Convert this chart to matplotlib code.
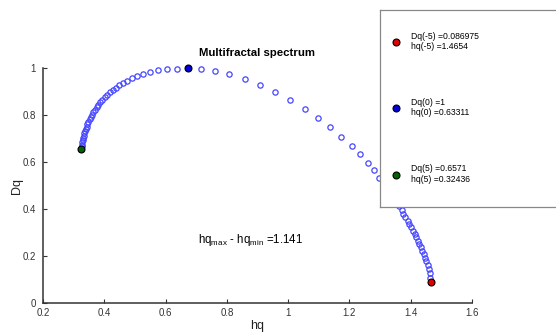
import matplotlib
matplotlib.use("Agg")
import matplotlib.pyplot as plt

plt.rcParams['font.family'] = ['Liberation Sans', 'DejaVu Sans']
plt.rcParams['mathtext.default'] = 'regular'

# spectrum points, from q=-5 (right end) through q=0 (top) to q=5 (left end)
hq = [1.4654, 1.4645, 1.4625, 1.4595, 1.4556, 1.4510, 1.4467, 1.4425, 1.4379,
      1.4337, 1.4281, 1.4239, 1.4183, 1.4131, 1.4076, 1.4020, 1.3955, 1.3903,
      1.3824, 1.3759, 1.3707, 1.3632, 1.3537, 1.3426, 1.3296, 1.3142, 1.2966,
      1.2813, 1.2597, 1.2346, 1.2069, 1.1736, 1.1377, 1.0975, 1.0541, 1.0071,
      0.9582, 0.9072, 0.8583, 0.8080, 0.7604, 0.7157, 0.6740,
      0.6373, 0.6047, 0.5753, 0.5492, 0.5264, 0.5058, 0.4905, 0.4751, 0.4621,
      0.4490, 0.4383, 0.4285, 0.4187, 0.4099, 0.4017, 0.3942, 0.3873, 0.3811,
      0.3753, 0.3697, 0.3648, 0.3602, 0.3560, 0.3521, 0.3485, 0.3452, 0.3423,
      0.3397, 0.3371, 0.3351, 0.3332, 0.3315, 0.3300, 0.3285, 0.3270, 0.3258,
      0.32436]
Dq = [0.086975, 0.1067, 0.1254, 0.1425, 0.1608, 0.1779, 0.1920, 0.2065, 0.2206,
      0.2363, 0.2504, 0.2645, 0.2790, 0.2931, 0.3072, 0.3217, 0.3358, 0.3498,
      0.3643, 0.3784, 0.3955, 0.4117, 0.4305, 0.4518, 0.4757, 0.5030, 0.5333,
      0.5648, 0.5973, 0.6323, 0.6694, 0.7082, 0.7483, 0.7880, 0.8276, 0.8648,
      0.8989, 0.9288, 0.9543, 0.9744, 0.9885, 0.9970, 1.0000,
      0.998, 0.995, 0.9915, 0.983, 0.974, 0.966, 0.957, 0.947, 0.937,
      0.927, 0.917, 0.907, 0.898, 0.8870, 0.8763, 0.8652, 0.8545, 0.8439,
      0.8332, 0.8225, 0.8123, 0.8020, 0.7918, 0.7816, 0.7713, 0.7615, 0.7517,
      0.7419, 0.7321, 0.7223, 0.7125, 0.7026, 0.6933, 0.6839, 0.6749, 0.6664,
      0.6571]

# highlighted points q=-5, 0, 5
mark_hq = [1.4654, 0.6740, 0.32436]
mark_Dq = [0.086975, 1.0, 0.6571]
mark_colors = ['#e00000', '#0000e0', '#006400']
mark_labels = ['Dq(-5) =0.086975\nhq(-5) =1.4654',
               'Dq(0) =1\nhq(0) =0.63311',
               'Dq(5) =0.6571\nhq(5) =0.32436']
width_text = r'hq$_{max}$ - hq$_{min}$ =1.141'

fig = plt.figure(figsize=(5.56, 3.34), dpi=100)
ax = fig.add_axes([0.0773, 0.0937, 0.7716, 0.7018])

ax.plot(hq, Dq, 'o', mfc='none', mec='#4646ff', mew=0.9, ms=3.8, clip_on=False, zorder=3)
handles = []
for x, y, c in zip(mark_hq, mark_Dq, mark_colors):
    h, = ax.plot([x], [y], 'o', mfc=c, mec='black', mew=0.8, ms=5, clip_on=False, zorder=4)
    handles.append(h)

ax.set_xlim(0.2, 1.6)
ax.set_ylim(0, 1)
ax.set_xticks([0.2, 0.4, 0.6, 0.8, 1, 1.2, 1.4, 1.6])
ax.set_xticklabels(['0.2', '0.4', '0.6', '0.8', '1', '1.2', '1.4', '1.6'])
ax.set_yticks([0, 0.2, 0.4, 0.6, 0.8, 1])
ax.set_yticklabels(['0', '0.2', '0.4', '0.6', '0.8', '1'])
for s in ['top', 'right']:
    ax.spines[s].set_visible(False)
for s in ['left', 'bottom']:
    ax.spines[s].set_color('#333333')
    ax.spines[s].set_linewidth(1.1)
ax.tick_params(direction='in', length=3, width=0.8, colors='#333333', labelsize=7)
ax.tick_params(axis='x', pad=4)
ax.tick_params(axis='y', pad=5)
ax.set_xlabel('hq', fontsize=9, color='#222222', labelpad=1)
ax.set_ylabel('Dq', fontsize=9, color='#222222', labelpad=0)
ax.set_title('Multifractal spectrum', fontsize=8.2, fontweight='bold', pad=9)
ax.text(0.706, 0.267, width_text, fontsize=8.3, va='center', ha='left')

# legend box (wider than the figure, as in the reference)
lax = fig.add_axes([0.6835, 0.380, 0.40, 0.590], zorder=5)
lax.set_xticks([])
lax.set_yticks([])
for s in lax.spines.values():
    s.set_color('#888888')
    s.set_linewidth(0.9)

leg = fig.legend(handles, mark_labels, loc='upper left',
                 bbox_to_anchor=(0.7045, 0.905), frameon=False, fontsize=6.2,
                 labelspacing=5.45, handlelength=1.0, handletextpad=1.24,
                 borderpad=0, borderaxespad=0)
leg.set_zorder(10)

fig.savefig('out.png', dpi=100)
